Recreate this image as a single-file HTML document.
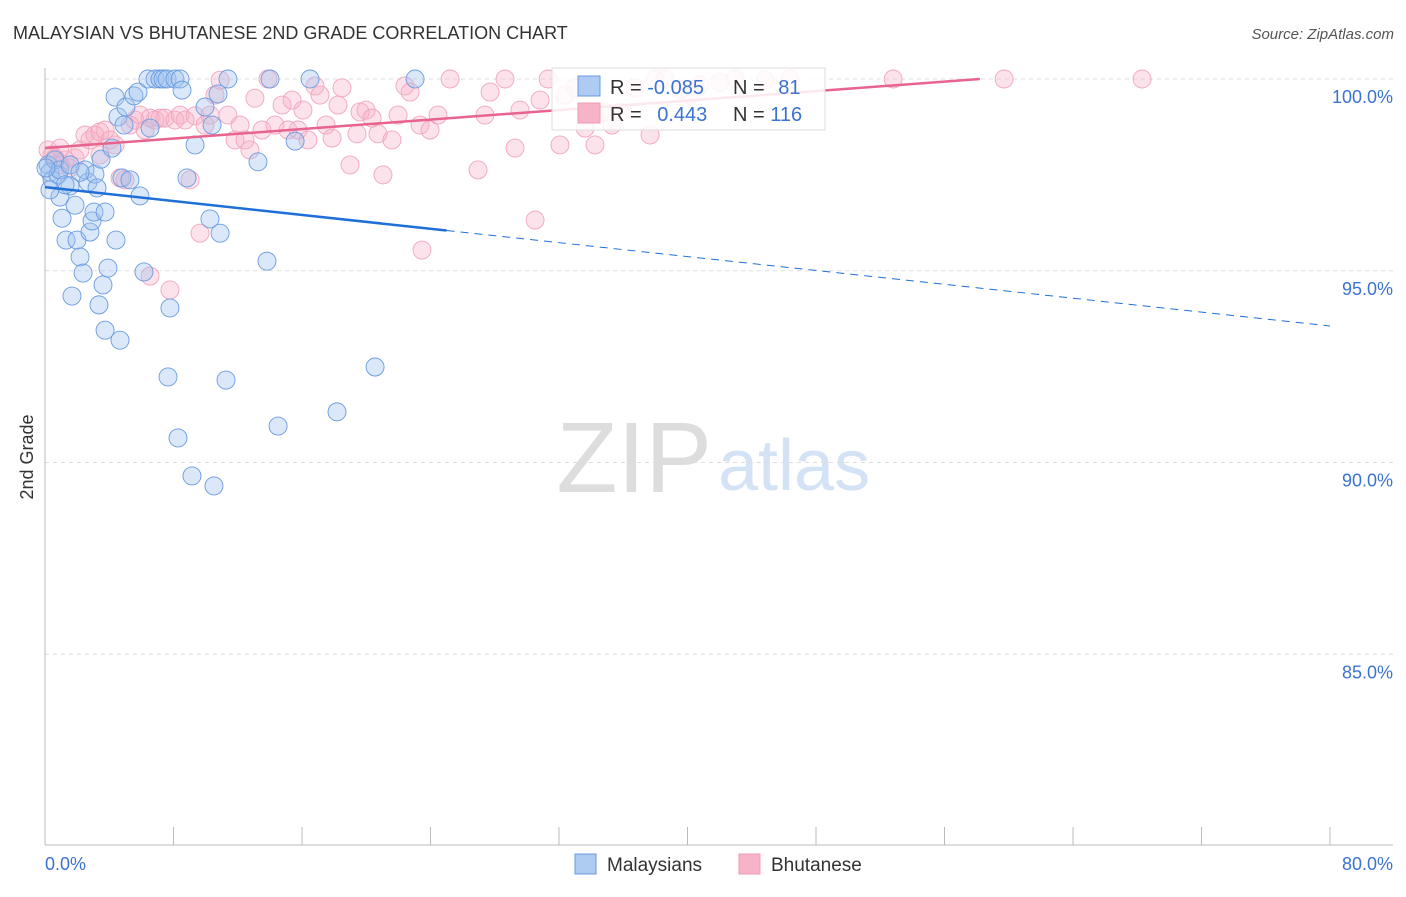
<!DOCTYPE html>
<html><head><meta charset="utf-8"><style>
body{margin:0;background:#fff;font-family:"Liberation Sans",sans-serif;}
svg text{font-family:"Liberation Sans",sans-serif;}
</style></head><body>
<svg id="chart" width="1406" height="892">
<text x="13" y="39" font-size="18" fill="#333">MALAYSIAN VS BHUTANESE 2ND GRADE CORRELATION CHART</text>
<text x="1394" y="39" font-size="15" fill="#555" font-style="italic" text-anchor="end">Source: ZipAtlas.com</text>
<text x="33" y="457" font-size="18" fill="#333" transform="rotate(-90 33 457)" text-anchor="middle">2nd Grade</text>
<text x="712" y="492" font-size="100" fill="#ddd" text-anchor="end" font-family="Liberation Serif">ZIP</text>
<text x="718" y="490" font-size="72" fill="#d3e2f5">atlas</text>
<g id="grid"></g><g id="pts"></g><g id="lines"></g>
<g>
<rect x="552" y="68" width="273" height="62" fill="#fff" fill-opacity="0.85" stroke="#ddd"/>
<rect x="578" y="76" width="22" height="20" fill="#aecbf2" stroke="#6a9be0"/>
<rect x="578" y="103" width="22" height="20" fill="#f7b3c8" stroke="#f09ab5"/>
<text x="610" y="94" font-size="20" fill="#333">R = <tspan fill="#3b73d1">-0.085</tspan></text>
<text x="733" y="94" font-size="20" fill="#333">N = <tspan fill="#3b73d1" dx="8">81</tspan></text>
<text x="610" y="121" font-size="20" fill="#333">R = <tspan fill="#3b73d1" dx="10">0.443</tspan></text>
<text x="733" y="121" font-size="20" fill="#333">N = <tspan fill="#3b73d1">116</tspan></text>
</g>
<g>
<rect x="575" y="854" width="21" height="20" fill="#aecbf2" stroke="#6a9be0"/>
<text x="607" y="871" font-size="19" fill="#333">Malaysians</text>
<rect x="739" y="854" width="21" height="20" fill="#f7b3c8" stroke="#f09ab5"/>
<text x="771" y="871" font-size="19" fill="#333">Bhutanese</text>
</g>
</svg>
<script>
const xTickLabels=["0.0%","80.0%"];
const yTicks=[100,95,90,85];
const blueX=[.19,.31,.44,.62,.81,.93,1.06,1.31,1.56,1.68,1.87,1.99,2.18,2.37,2.49,2.68,2.80,2.93,3.05,3.11,3.24,3.36,3.49,3.61,3.74,3.74,3.92,4.17,4.36,4.42,4.54,4.67,4.79,4.92,5.04,5.29,5.54,5.79,5.91,6.16,6.41,6.54,6.85,7.16,7.35,7.60,7.78,7.66,8.09,8.28,8.41,8.53,8.84,9.15,9.34,9.96,10.27,10.40,10.52,10.77,10.90,11.27,11.39,13.26,13.82,14.01,14.51,15.57,16.50,18.18,20.55,23.04,.93,1.25,.31,.06,1.56,2.18];
const blueY=[97.76,97.57,97.37,97.89,97.50,96.92,96.37,95.80,97.21,94.34,96.71,95.80,95.36,94.94,97.63,97.31,96.01,96.30,96.53,97.52,97.16,94.11,97.91,94.63,96.53,93.45,95.07,98.20,99.53,95.80,99.01,93.19,97.42,98.80,99.27,97.37,99.56,99.66,96.95,94.97,100,98.72,100,100,100,100,94.03,92.23,100,90.64,100,99.71,97.42,89.65,98.28,99.27,96.35,98.80,89.39,99.61,95.98,92.15,100,97.84,95.25,100,90.95,98.38,100,91.32,92.49,100,97.63,97.24,97.11,97.68,97.76,97.57];
const pinkX=[.19,.44,.62,.93,1.25,1.56,1.87,2.18,2.49,2.80,3.11,3.42,3.74,4.05,4.36,4.67,4.98,5.29,5.60,5.91,6.23,6.54,6.85,7.16,7.47,7.78,8.09,8.41,8.72,9.03,9.34,9.65,9.96,10.27,10.58,10.90,11.39,11.83,12.14,12.45,12.76,13.07,13.51,13.88,14.32,14.76,15.13,15.38,15.75,16.06,16.37,16.81,17.12,17.50,17.87,18.24,18.49,18.99,19.42,19.61,19.99,20.36,20.73,21.04,21.60,21.98,22.41,22.73,23.35,23.97,24.47,25.22,26.96,27.39,27.71,28.64,29.26,29.57,30.51,30.82,31.32,32.06,32.38,33.00,33.62,34.24,34.87,35.30,35.80,36.73,37.67,37.98,38.60,39.53,40.16,40.78,42.03,42.96,44.83,46.38,52.80,59.71,68.30,23.47,6.54,3.42,.93];
const pinkY=[98.15,98.02,97.94,97.76,97.89,97.68,97.94,98.15,98.54,98.41,98.54,98.62,98.67,98.41,98.28,97.42,97.37,98.80,98.93,99.06,98.67,94.86,98.93,98.98,98.98,94.50,98.93,99.06,98.93,97.37,99.04,95.98,98.80,99.06,99.58,99.97,99.06,98.41,98.80,98.41,98.15,99.50,98.67,100,98.80,99.32,98.67,99.45,98.67,99.19,98.41,99.82,99.58,98.80,98.46,99.32,99.77,97.76,98.57,99.14,99.19,98.98,98.57,97.50,98.41,99.06,99.82,99.66,98.80,98.67,99.06,100,97.63,99.06,99.66,100,98.20,99.19,96.32,99.45,100,98.28,99.58,99.77,98.72,98.28,99.14,98.80,99.14,99.77,98.54,100,100,99.71,99.58,99.84,99.92,100,99.97,100,100,100,100,95.54,98.98,98.02,98.20];
const blueTrend=[97.18,93.56];
const pinkTrend=[98.2,100,58.2];
const NS="http://www.w3.org/2000/svg";
const X=v=>45+v/80*1285;
const Y=v=>79+(100-v)*38.35;
function mk(t,a,p){const e=document.createElementNS(NS,t);for(const k in a)e.setAttribute(k,a[k]);p.appendChild(e);return e;}
const grid=document.getElementById('grid');
yTicks.forEach(t=>{
  const l=mk('line',{x1:45,x2:1393,y1:Y(t),y2:Y(t),stroke:'#ddd','stroke-dasharray':'4,4'},grid);
  
  
  const tx=mk('text',{x:1393,y:Y(t)+24,'font-size':18,fill:'#3b73d1','text-anchor':'end'},grid);
  tx.textContent=t.toFixed(1)+'%';
  
  
});
const ax=mk('line',{x1:45,x2:45,y1:68,y2:845,stroke:'#bbb'},grid);


const bx=mk('line',{x1:45,x2:1393,y1:845,y2:845,stroke:'#bbb'},grid);


for(let i=0;i<=10;i++){const t=mk('line',{x1:X(i*8),x2:X(i*8),y1:827,y2:845,stroke:'#bbb'},grid);

}
[[0,xTickLabels[0],'start',45],[80,xTickLabels[1],'end',1393]].forEach(([v,s,a,px])=>{
  const t=mk('text',{x:px,y:870,'font-size':18,fill:'#3b73d1','text-anchor':a},grid);t.textContent=s;
  
  
});
const pts=document.getElementById('pts');
pinkX.forEach((v,i)=>{const c=mk('circle',{cx:X(v),cy:Y(pinkY[i]),r:9,fill:'rgba(247,175,198,0.35)',stroke:'#f2a5bd','stroke-width':0.9},pts);

});
blueX.forEach((v,i)=>{const c=mk('circle',{cx:X(v),cy:Y(blueY[i]),r:9,fill:'rgba(160,195,240,0.38)',stroke:'#6a9be0','stroke-width':0.9},pts);

});
const lines=document.getElementById('lines');
const bAt=x=>blueTrend[0]+(blueTrend[1]-blueTrend[0])*x/80;
let l1=mk('line',{x1:X(0),y1:Y(bAt(0)),x2:X(25),y2:Y(bAt(25)),stroke:'#1f6fd8','stroke-width':2.5},lines);


let l2=mk('line',{x1:X(25),y1:Y(bAt(25)),x2:X(80),y2:Y(bAt(80)),stroke:'#1f6fd8','stroke-width':1,'stroke-dasharray':'8,6'},lines);


let l3=mk('line',{x1:X(0),y1:Y(pinkTrend[0]),x2:X(pinkTrend[2]),y2:Y(pinkTrend[1]),stroke:'#e8638d','stroke-width':2.5},lines);


</script>
</body></html>
